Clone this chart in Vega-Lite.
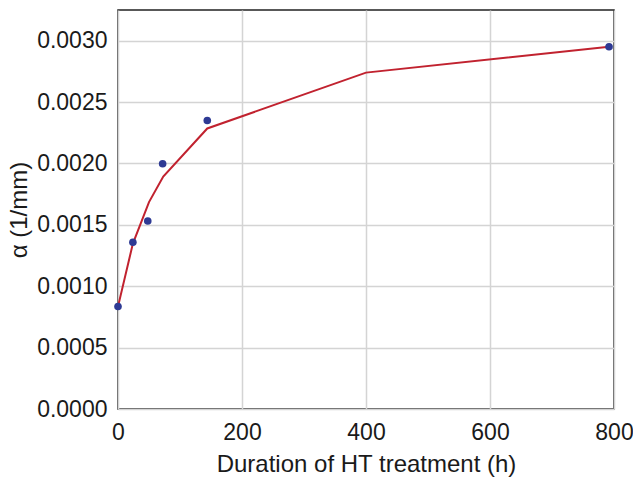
{
  "$schema": "https://vega.github.io/schema/vega-lite/v6.json",
  "width": 496,
  "height": 399,
  "autosize": "none",
  "padding": {"left": 118, "top": 10, "right": 19, "bottom": 70},
  "background": "white",
  "config": {
    "font": "Liberation Sans",
    "view": {"stroke": "#222222", "strokeWidth": 1.5},
    "axis": {
      "ticks": false,
      "domain": false,
      "labelFlush": false,
      "labelOverlap": false,
      "gridColor": "#d4d4d4",
      "gridWidth": 1.5,
      "labelFont": "Liberation Sans",
      "titleFont": "Liberation Sans",
      "labelFontSize": 23,
      "titleFontSize": 24,
      "labelColor": "#1a1a1a",
      "titleColor": "#1a1a1a",
      "titleFontWeight": "normal"
    }
  },
  "datasets": {
    "points": [
      {"hours": 0, "alpha": 0.000835},
      {"hours": 24, "alpha": 0.001358},
      {"hours": 48, "alpha": 0.001531},
      {"hours": 72, "alpha": 0.001998},
      {"hours": 144, "alpha": 0.00235},
      {"hours": 792, "alpha": 0.002951}
    ],
    "fit": [
      {"hours": 0, "alpha": 0.000835},
      {"hours": 24, "alpha": 0.001347},
      {"hours": 50, "alpha": 0.001685},
      {"hours": 73, "alpha": 0.001894},
      {"hours": 144, "alpha": 0.002285},
      {"hours": 400, "alpha": 0.00274},
      {"hours": 792, "alpha": 0.002951}
    ]
  },
  "layer": [
    {
      "data": {"name": "fit"},
      "mark": {"type": "line", "color": "#c1222f", "strokeWidth": 2, "clip": true},
      "encoding": {
        "x": {
          "field": "hours", "type": "quantitative",
          "scale": {"domain": [0, 800], "nice": false},
          "axis": {"values": [0, 200, 400, 600, 800], "title": "Duration of HT treatment (h)", "labelPadding": 12, "titlePadding": 8}
        },
        "y": {
          "field": "alpha", "type": "quantitative",
          "scale": {"domain": [0, 0.00325], "nice": false, "zero": true},
          "axis": {"values": [0, 0.0005, 0.001, 0.0015, 0.002, 0.0025, 0.003], "format": ".4f", "title": "α (1/mm)", "labelPadding": 11, "titlePadding": 5}
        }
      }
    },
    {
      "data": {"name": "points"},
      "mark": {"type": "circle", "color": "#2e3a94", "opacity": 1, "size": 58, "clip": false},
      "encoding": {
        "x": {"field": "hours", "type": "quantitative"},
        "y": {"field": "alpha", "type": "quantitative"}
      }
    }
  ]
}
